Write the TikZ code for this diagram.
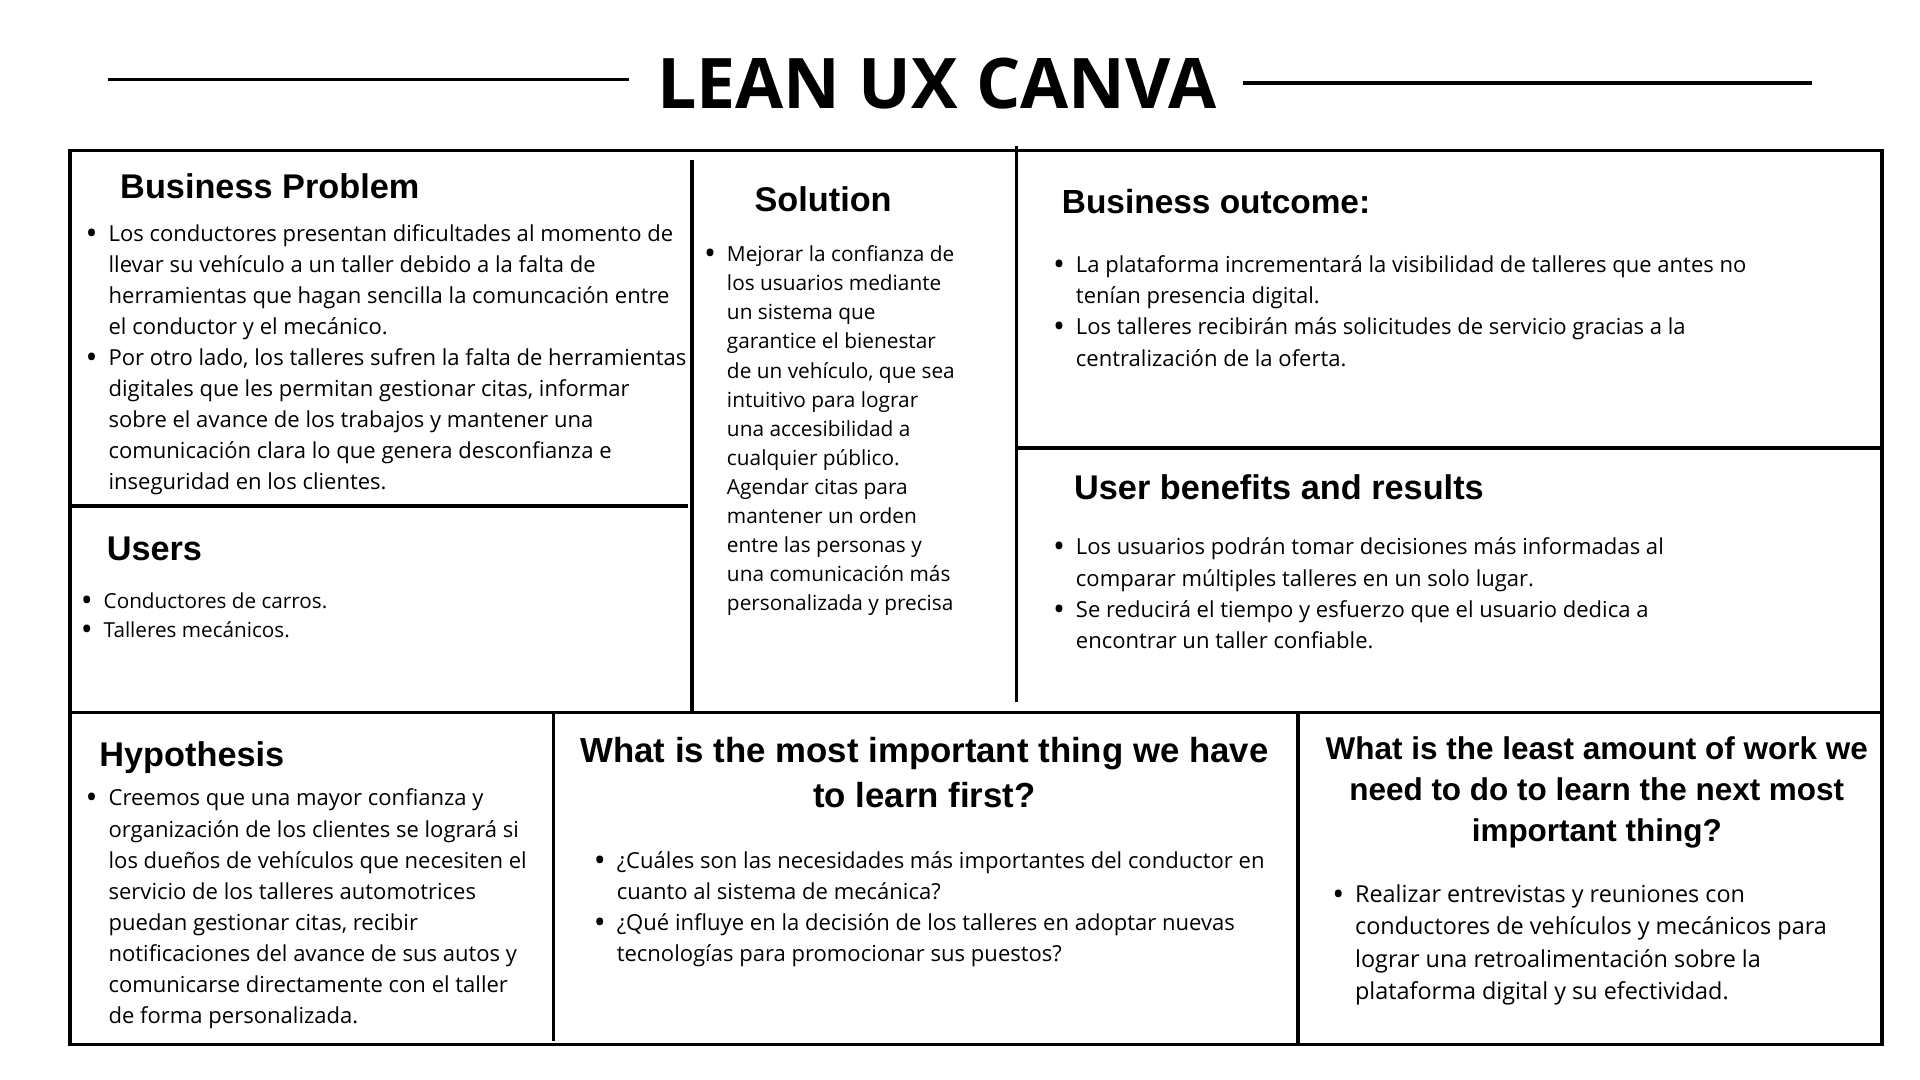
\documentclass[tikz,border=0pt]{standalone}
\usepackage{fontspec}
\setmainfont{Open Sans}
\newfontfamily\headfont{Liberation Sans}
\newfontfamily\titlefont{Open Sans}
\newcommand{\bul}{\makebox[14.5pt][l]{\hspace*{-4.2pt}\raisebox{-2.4pt}{\fontsize{26}{0}\selectfont\textbullet}}}
\newcommand{\ind}{\hspace*{14.5pt}}
\newcommand{\fl}{\rule{0pt}{20pt}}
\tikzset{
  frame/.style={line width=3pt, black},
  tline/.style={line width=3pt, black},
  head/.style={font=\headfont\bfseries\fontsize{28}{34}\selectfont, inner sep=0pt, anchor=base west},
  body/.style={font=\fontsize{18}{25.3}\selectfont, align=left, inner sep=0pt, anchor=north west},
  bodys/.style={font=\fontsize{17}{23.75}\selectfont, align=left, inner sep=0pt, anchor=north west},
}
\begin{document}
\begin{tikzpicture}[x=1pt,y=-1pt]
\useasboundingbox (0,0) rectangle (1568,882);
\fill[white] (0,0) rectangle (1568,882);
% title
\node[font=\titlefont\bfseries\fontsize{57}{60}\selectfont, inner sep=0pt, anchor=base] (title) at (765,89) {LEAN UX CANVA};
\coordinate (tl1) at (88,65); \coordinate (tl2) at (514,65);
\coordinate (tr1) at (1015,68); \coordinate (tr2) at (1480,68);
\draw[tline] (tl1) -- (tl2);
\draw[tline] (tr1) -- (tr2);
% frame
\coordinate (fnw) at (57,123); \coordinate (fse) at (1537,853);
\draw[frame] (fnw) rectangle (fse);
\coordinate (a1) at (57,413); \coordinate (a2) at (562,413);
\draw[frame] (a1) -- (a2);
\coordinate (b1) at (565,131); \coordinate (b2) at (565,582);
\draw[frame] (b1) -- (b2);
\coordinate (c1) at (830,119); \coordinate (c2) at (830,573);
\draw[frame] (c1) -- (c2);
\coordinate (d1) at (830,366); \coordinate (d2) at (1537,366);
\draw[frame] (d1) -- (d2);
\coordinate (e1) at (57,582); \coordinate (e2) at (1537,582);
\draw[frame] (e1) -- (e2);
\coordinate (f1) at (452,582); \coordinate (f2) at (452,850);
\draw[frame] (f1) -- (f2);
\coordinate (g1) at (1060,582); \coordinate (g2) at (1060,853);
\draw[frame] (g1) -- (g2);

% Business Problem
\node[head] (bph) at (98,162) {Business Problem};
\node[body] (bpt) at (74,177) {\fl\bul Los conductores presentan dificultades al momento de\\
\ind llevar su vehículo a un taller debido a la falta de\\
\ind herramientas que hagan sencilla la comuncación entre\\
\ind el conductor y el mecánico.\\
\bul Por otro lado, los talleres sufren la falta de herramientas\\
\ind digitales que les permitan gestionar citas, informar\\
\ind sobre el avance de los trabajos y mantener una\\
\ind comunicación clara lo que genera desconfianza e\\
\ind inseguridad en los clientes.};

% Users
\node[head] (ush) at (87,458) {Users};
\node[bodys, font=\fontsize{16.9}{24}\selectfont] (ust) at (70,476.5) {\fl\bul Conductores de carros.\\
\bul Talleres mecánicos.};

% Solution
\node[head] (soh) at (616,173) {Solution};
\node[bodys] (sot) at (579,193.5) {\fl\bul Mejorar la confianza de\\
\ind los usuarios mediante\\
\ind un sistema que\\
\ind garantice el bienestar\\
\ind de un vehículo, que sea\\
\ind intuitivo para lograr\\
\ind una accesibilidad a\\
\ind cualquier público.\\
\ind Agendar citas para\\
\ind mantener un orden\\
\ind entre las personas y\\
\ind una comunicación más\\
\ind personalizada y precisa};

% Business outcome
\node[head, font=\headfont\bfseries\fontsize{27.3}{34}\selectfont] (boh) at (867,174) {Business outcome:};
\node[body, font=\fontsize{18}{25.6}\selectfont] (bot) at (864,202) {\fl\bul La plataforma incrementará la visibilidad de talleres que antes no\\
\ind tenían presencia digital.\\
\bul Los talleres recibirán más solicitudes de servicio gracias a la\\
\ind centralización de la oferta.};

% User benefits
\node[head] (ubh) at (877,408) {User benefits and results};
\node[body, font=\fontsize{18}{25.6}\selectfont] (ubt) at (864,433) {\fl\bul Los usuarios podrán tomar decisiones más informadas al\\
\ind comparar múltiples talleres en un solo lugar.\\
\bul Se reducirá el tiempo y esfuerzo que el usuario dedica a\\
\ind encontrar un taller confiable.};

% Hypothesis
\node[head] (hyh) at (81,626) {Hypothesis};
\node[body, font=\fontsize{18}{25.4}\selectfont] (hyt) at (74,638) {\fl\bul Creemos que una mayor confianza y\\
\ind organización de los clientes se logrará si\\
\ind los dueños de vehículos que necesiten el\\
\ind servicio de los talleres automotrices\\
\ind puedan gestionar citas, recibir\\
\ind notificaciones del avance de sus autos y\\
\ind comunicarse directamente con el taller\\
\ind de forma personalizada.};

% Q1
\node[head, anchor=north, align=center, font=\headfont\bfseries\fontsize{28.4}{37}\selectfont] (q1h) at (755,602) {\rule{0pt}{20pt}What is the most important thing we have\\to learn first?};
\node[body] (q1t) at (489,689) {\fl\bul ¿Cuáles son las necesidades más importantes del conductor en\\
\ind cuanto al sistema de mecánica?\\
\bul ¿Qué influye en la decisión de los talleres en adoptar nuevas\\
\ind tecnologías para promocionar sus puestos?};

% Q2
\node[head, anchor=north, align=center, font=\headfont\bfseries\fontsize{25.7}{33.5}\selectfont] (q2h) at (1304,600) {\rule{0pt}{20pt}What is the least amount of work we\\need to do to learn the next most\\important thing?};
\node[body, font=\fontsize{19.1}{26.3}\selectfont] (q2t) at (1092,717) {\fl\bul Realizar entrevistas y reuniones con\\
\ind conductores de vehículos y mecánicos para\\
\ind lograr una retroalimentación sobre la\\
\ind plataforma digital y su efectividad.};
\end{tikzpicture}
\end{document}
